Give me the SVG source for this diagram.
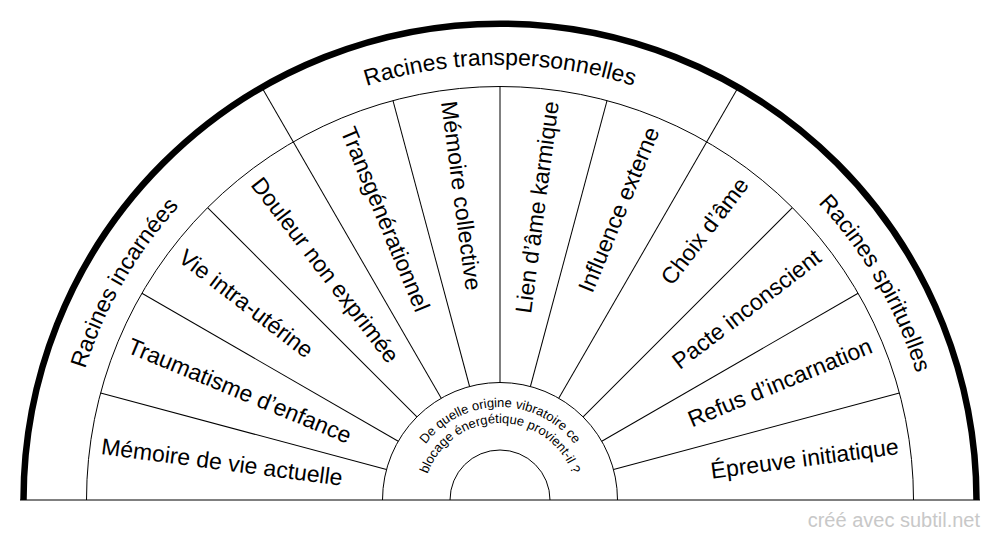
<svg xmlns="http://www.w3.org/2000/svg" xmlns:xlink="http://www.w3.org/1999/xlink" width="1000" height="540" viewBox="0 0 1000 540">
  <style>
    .ln { stroke: #000; stroke-width: 1; fill: none; }
    .thick { stroke: #000; stroke-width: 6.5; fill: none; }
    .lbl { font-family: "Liberation Sans", Arial, sans-serif; font-size: 23px; fill: #000; }
    .grp { font-family: "Liberation Sans", Arial, sans-serif; font-size: 23px; fill: #000; text-anchor: middle; }
    .q { font-family: "Liberation Sans", Arial, sans-serif; font-size: 13px; fill: #000; text-anchor: middle; }
    .wm { font-family: "Liberation Sans", Arial, sans-serif; font-size: 20px; fill: #c8c8c8; text-anchor: end; }
  </style>
  <defs>
    <path id="outerPath" d="M 65 500 A 435 435 0 0 1 935 500"/>
    <path id="q1Path" d="M 407 500 A 93 93 0 0 1 593 500"/>
    <path id="q2Path" d="M 423 500 A 77 77 0 0 1 577 500"/>
  </defs>
  <rect x="0" y="0" width="1000" height="540" fill="#fff"/>

  <g id="connectors">
    <path class="ln" d="M 86.5 500 A 413.5 413.5 0 0 1 913.5 500"/>
    <path class="ln" d="M 382.5 500 A 117.5 117.5 0 0 1 617.5 500"/>
    <path class="ln" d="M 450 500 A 50 50 0 0 1 550 500"/>
    <line class="ln" x1="20" y1="500" x2="980" y2="500"/>
    <g transform="translate(500 500)">
      <line class="ln" x1="-117.5" y1="0" x2="-413.5" y2="0" transform="rotate(15)"/>
      <line class="ln" x1="-117.5" y1="0" x2="-413.5" y2="0" transform="rotate(30)"/>
      <line class="ln" x1="-117.5" y1="0" x2="-413.5" y2="0" transform="rotate(45)"/>
      <line class="ln" x1="-117.5" y1="0" x2="-476.5" y2="0" transform="rotate(60)"/>
      <line class="ln" x1="-117.5" y1="0" x2="-413.5" y2="0" transform="rotate(75)"/>
      <line class="ln" x1="-117.5" y1="0" x2="-413.5" y2="0" transform="rotate(90)"/>
      <line class="ln" x1="-117.5" y1="0" x2="-413.5" y2="0" transform="rotate(105)"/>
      <line class="ln" x1="-117.5" y1="0" x2="-476.5" y2="0" transform="rotate(120)"/>
      <line class="ln" x1="-117.5" y1="0" x2="-413.5" y2="0" transform="rotate(135)"/>
      <line class="ln" x1="-117.5" y1="0" x2="-413.5" y2="0" transform="rotate(150)"/>
      <line class="ln" x1="-117.5" y1="0" x2="-413.5" y2="0" transform="rotate(165)"/>
    </g>
    <path class="thick" d="M 23.5 500 A 476.5 476.5 0 0 1 976.5 500"/>
  </g>

  <g id="group-incarnees"><text class="grp"><textPath xlink:href="#outerPath" href="#outerPath" startOffset="16.667%">Racines incarnées</textPath></text></g>
  <g id="group-transpersonnelles"><text class="grp"><textPath xlink:href="#outerPath" href="#outerPath" startOffset="50%">Racines transpersonnelles</textPath></text></g>
  <g id="group-spirituelles"><text class="grp"><textPath xlink:href="#outerPath" href="#outerPath" startOffset="83.333%">Racines spirituelles</textPath></text></g>

  <g id="sector-1"><text class="lbl" transform="translate(500 500) rotate(7.5)" x="-402" y="6.5">Mémoire de vie actuelle</text></g>
  <g id="sector-2"><text class="lbl" transform="translate(500 500) rotate(22.5)" x="-402" y="6.5">Traumatisme d’enfance</text></g>
  <g id="sector-3"><text class="lbl" transform="translate(500 500) rotate(37.5)" x="-402" y="6.5">Vie intra-utérine</text></g>
  <g id="sector-4"><text class="lbl" transform="translate(500 500) rotate(52.5)" x="-402" y="6.5">Douleur non exprimée</text></g>
  <g id="sector-5"><text class="lbl" transform="translate(500 500) rotate(67.5)" x="-402" y="6.5">Transgénérationnel</text></g>
  <g id="sector-6"><text class="lbl" transform="translate(500 500) rotate(82.5)" x="-402" y="6.5">Mémoire collective</text></g>
  <g id="sector-7"><text class="lbl" transform="translate(500 500) rotate(-82.5)" x="402" y="6.5" text-anchor="end">Lien d’âme karmique</text></g>
  <g id="sector-8"><text class="lbl" transform="translate(500 500) rotate(-67.5)" x="402" y="6.5" text-anchor="end">Influence externe</text></g>
  <g id="sector-9"><text class="lbl" transform="translate(500 500) rotate(-52.5)" x="402" y="6.5" text-anchor="end">Choix d’âme</text></g>
  <g id="sector-10"><text class="lbl" transform="translate(500 500) rotate(-37.5)" x="402" y="6.5" text-anchor="end">Pacte inconscient</text></g>
  <g id="sector-11"><text class="lbl" transform="translate(500 500) rotate(-22.5)" x="402" y="6.5" text-anchor="end">Refus d’incarnation</text></g>
  <g id="sector-12"><text class="lbl" transform="translate(500 500) rotate(-7.5)" x="402" y="6.5" text-anchor="end">Épreuve initiatique</text></g>

  <g id="question">
    <text class="q"><textPath xlink:href="#q1Path" href="#q1Path" startOffset="50%">De quelle origine vibratoire ce</textPath></text>
    <text class="q"><textPath xlink:href="#q2Path" href="#q2Path" startOffset="50%">blocage énergétique provient-il ?</textPath></text>
  </g>

  <text class="wm" x="980" y="527">créé avec subtil.net</text>
</svg>
